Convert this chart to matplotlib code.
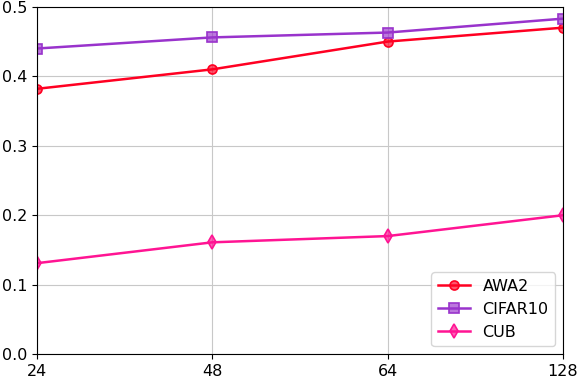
import matplotlib
matplotlib.use("Agg")
import matplotlib.pyplot as plt
import numpy as np

bits = ["24", "48", "64", "128"]
awa2 = [0.382, 0.410, 0.450, 0.470]
cifar10 = [0.440, 0.456, 0.463, 0.483]
cub = [0.131, 0.161, 0.170, 0.200]

fig, ax = plt.subplots(figsize=(5.78, 3.80), dpi=100)
x = np.arange(len(bits))

ax.plot(x, awa2, color="#ff0022", marker="o", markersize=6.5, markeredgecolor="#ff0022",
        markerfacecolor="#ff0022aa", markeredgewidth=1.2, linewidth=1.8, label="AWA2")
ax.plot(x, cifar10, color="#9933cc", marker="s", markersize=6.5, markeredgecolor="#9933cc",
        markerfacecolor="#9933ccaa", markeredgewidth=1.2, linewidth=1.8, label="CIFAR10")
ax.plot(x, cub, color="#ff1493", marker="d", markersize=7.5, markeredgecolor="#ff1493",
        markerfacecolor="#ff1493aa", markeredgewidth=1.2, linewidth=1.8, label="CUB")

ax.set_xlim(0, 3)
ax.set_ylim(0, 0.5)
ax.set_xticks(x)
ax.set_xticklabels(bits)
ax.set_yticks([0, 0.1, 0.2, 0.3, 0.4, 0.5])
ax.tick_params(labelsize=11.5)
ax.grid(True, color="#c8c8c8")
ax.legend(loc="lower right", fontsize=11.5)

plt.subplots_adjust(left=0.064, right=0.974, top=0.982, bottom=0.068)
fig.savefig("out.png", dpi=100)
